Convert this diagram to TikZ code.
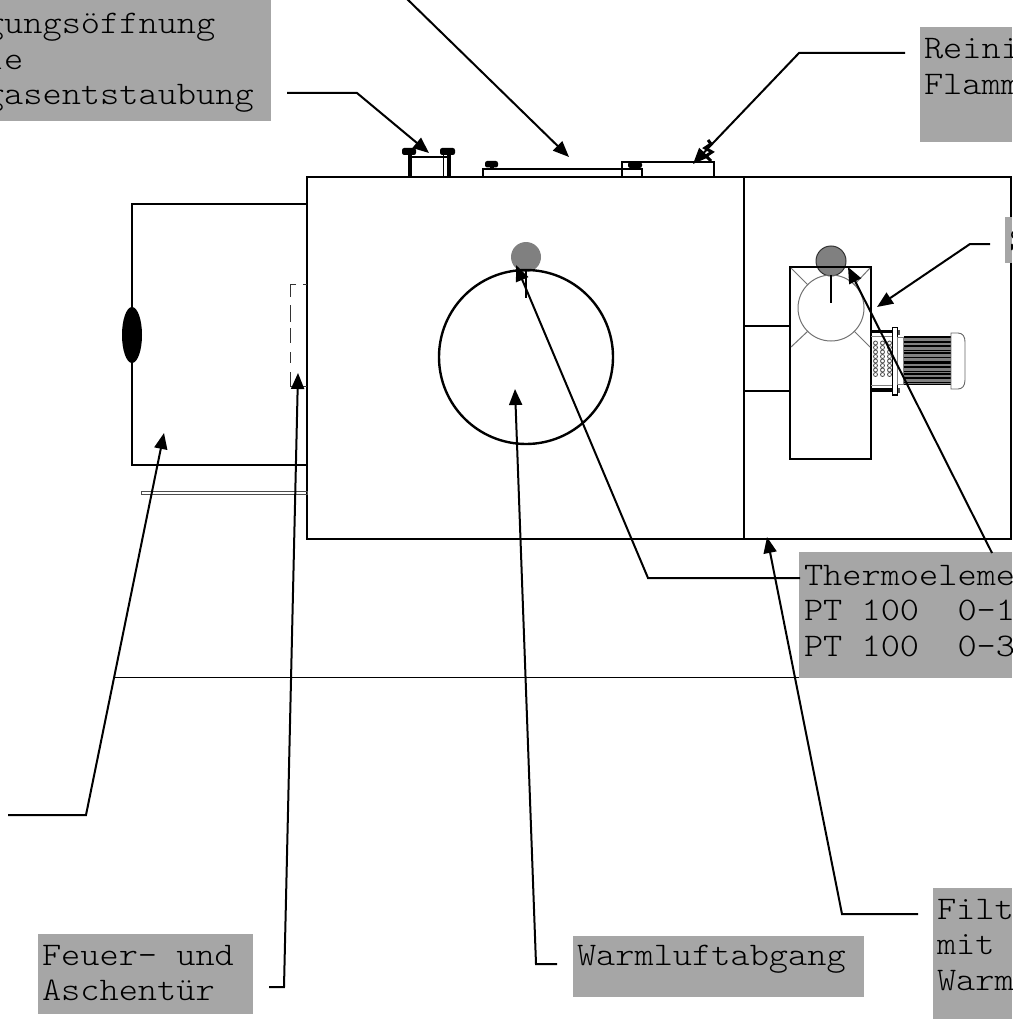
\documentclass[tikz,border=0pt]{standalone}
\usepackage{fontspec}
\newfontfamily\labfont{Latin Modern Mono Light}[FakeStretch=1.108]
\usetikzlibrary{arrows.meta}
\definecolor{boxgrey}{HTML}{A6A6A6}
\definecolor{dotgrey}{HTML}{808080}
\tikzset{
  greybox/.style={fill=boxgrey,draw=none,inner sep=0pt,outer sep=0pt,anchor=north west},
  labeltext/.style={inner sep=0pt,outer sep=0pt,anchor=north west,align=left,text=black,
    font=\labfont\fontsize{33}{35.5}\selectfont},
  thick line/.style={line width=2.4pt,draw=black},
  thin grey/.style={line width=1pt,draw=black!55},
  connector/.style={line width=2pt,draw=black,line join=miter,-{Triangle[length=16pt,width=13pt]}},
  plainline/.style={line width=.9pt,draw=black},
  boltcap/.style={fill=black,rounded corners=2.2pt},
  dashline/.style={line width=1pt,draw=black!80},
}
\newcommand{\topstrut}{\rule{0pt}{24pt}}
\begin{document}
\begin{tikzpicture}[x=1pt,y=-1pt]
\useasboundingbox (0,0) rectangle (1012,1019);
\clip (0,0) rectangle (1012,1019);
\fill[white] (0,0) rectangle (1012,1019);

% ---- housing
\draw[thick line] (307,177) rectangle (744,539);
\draw[thick line] (744,177) -- (1011,177) -- (1011,539) -- (744,539);
\draw[thick line] (307,204) -- (132,204) -- (132,465) -- (307,465);
\fill[black] (132,335) ellipse [x radius=10,y radius=28];
\draw[dashline] (296,284) -- (290,284) -- (290,297);
\draw[dashline] (303,284) -- (307,284);
\draw[dashline] (290,305) -- (290,322);
\draw[dashline] (290,328) -- (290,343);
\draw[dashline] (290,352) -- (290,363);
\draw[dashline] (290,372) -- (290,386) -- (307,386);
\draw[line width=1pt,draw=black!70] (141,491) rectangle (307,494.5);

% ---- combustion chamber circle
\fill[dotgrey] (526,257) circle [radius=15];
\draw[thick line] (526,357) circle [radius=87];
\draw[line width=1.6pt,draw=black] (526,270) -- (526,298);

% ---- top fittings
\draw[line width=4.5pt] (410,155) -- (410,177);
\draw[line width=1.3pt] (443.5,155) -- (443.5,177);
\draw[line width=3.5pt] (449,155) -- (449,177);
\draw[line width=2.2pt] (410,157) -- (447,157);
\fill[boltcap] (402,148) rectangle (416,155);
\fill[boltcap] (440,148) rectangle (455,155);
\draw[line width=2pt] (483,177) -- (483,169) -- (642,169) -- (642,177);
\fill[boltcap] (485,161) rectangle (498,167.5);
\draw[line width=4pt] (492,166) -- (492,170);
\draw[line width=1.8pt] (622,177) -- (622,162) -- (714,162) -- (714,177);
\fill[boltcap] (628,162) rectangle (642,168);
\draw[line width=3pt] (708,140) -- (711,144) -- (705,148) -- (712,152) -- (706,156) -- (711,161);

% ---- fan
\fill[dotgrey] (831,261) circle [radius=15];
\draw[line width=1pt,draw=black!80] (831,261) circle [radius=15];
\draw[thick line] (790,267) rectangle (871,459);
\draw[thin grey] (831,308) circle [radius=33];
\draw[thin grey] (791,268) -- (808,285);
\draw[thin grey] (870,268) -- (854,285);
\draw[thin grey] (791,347) -- (808,331);
\draw[thin grey] (870,347) -- (854,331);
\draw[line width=1.6pt,draw=black] (831,275) -- (831,303);
\draw[thick line] (744,326) -- (790,326);
\draw[thick line] (744,391) -- (790,391);

% ---- motor
\draw[line width=2.5pt] (871,331.5) -- (893,331.5);
\draw[line width=4pt] (871,390) -- (893,390);
\draw[line width=.7pt,draw=black!50] (871,336) -- (893,336);
\draw[line width=.7pt,draw=black!50] (871,385) -- (893,385);
\foreach \cx in {875.5,882.5,889.5}
  \foreach \cy in {343,347.5,352,356.5,361,365.5,370,374.5}
    \draw[line width=.8pt,draw=black!70] (\cx,\cy) circle [radius=2];
\draw[line width=1.2pt,fill=white] (892.5,327.5) rectangle (897.5,395);
\fill[black!70] (897.5,330) rectangle (899.5,335);
\fill[black!70] (897.5,388) rectangle (899.5,393);
\draw[line width=.8pt,draw=black!50,fill=white] (897.5,337) rectangle (903.5,384);
\fill[black!50] (903.5,336) rectangle (951,385);
\foreach \sy/\sw in {337/2.2,342/1.2,346/1.6,350.5/.8,353/1.2,357/1,362.5/2.5,367/1.2,371/.8,374/1.6,378/1.2,382/.8,384.5/1.5}
  \draw[line width=\sw pt,draw=black] (903.5,\sy) -- (951,\sy);
\draw[line width=.9pt,draw=black!60,fill=white] (951,333) -- (958,333) .. controls (963,333) and (965,337) .. (965,342)
  -- (965,380) .. controls (965,386) and (962,389) .. (958,389) -- (951,389) -- cycle;

% ---- thin cross line
\draw[plainline] (115,677) -- (800,677);

% ---- grey labels
\node[greybox,minimum width=291pt,minimum height=121pt] (lblA) at (-20,0) {};
\node[labeltext] (lblAt) at (-15,10) {\topstrut gungsöffnung\\ie\\gasentstaubung};
\node[greybox,minimum width=92pt,minimum height=115pt] (lblB) at (920,27) {};
\node[labeltext] (lblBt) at (924,35) {\topstrut Reini\\Flamm};
\node[greybox,minimum width=7pt,minimum height=46pt] (lblC) at (1005,217) {};
\node[labeltext] (lblCt) at (1009,226) {\topstrut S};
\node[greybox,minimum width=213pt,minimum height=126pt] (lblD) at (799,552) {};
\node[labeltext] (lblDt) at (804,561) {\topstrut Thermoeleme\\PT~100~~0-1\\PT~100~~0-3};
\node[greybox,minimum width=79pt,minimum height=131pt] (lblE) at (933,888) {};
\node[labeltext] (lblEt) at (937,895) {\topstrut Filt\\mit\\Warm};
\node[greybox,minimum width=291pt,minimum height=61pt] (lblF) at (573,936) {};
\node[labeltext] (lblFt) at (577,941) {\topstrut Warmluftabgang};
\node[greybox,minimum width=215pt,minimum height=80pt] (lblG) at (38,934) {};
\node[labeltext] (lblGt) at (42,941) {\topstrut Feuer-~und\\Aschentür};

% ---- connector points
\coordinate (a0) at (287,93);   \coordinate (a1) at (357,93);   \coordinate (a2) at (429,153);
\coordinate (b0) at (404,-4);   \coordinate (b2) at (569,157);
\coordinate (c0) at (905,53);   \coordinate (c1) at (799,53);   \coordinate (c2) at (693,164);
\coordinate (d0) at (990,244);  \coordinate (d1) at (970,244);  \coordinate (d2) at (877,307);
\coordinate (e0) at (800,578);  \coordinate (e1) at (648,578);  \coordinate (e2) at (516,265);
\coordinate (f0) at (992,553);  \coordinate (f2) at (848,267);
\coordinate (g0) at (8,815);    \coordinate (g1) at (86,815);   \coordinate (g2) at (164,433);
\coordinate (h0) at (269,987);  \coordinate (h1) at (284,987);  \coordinate (h2) at (298,373);
\coordinate (i0) at (557,964);  \coordinate (i1) at (536,964);  \coordinate (i2) at (515,389);
\coordinate (j0) at (918,914);  \coordinate (j1) at (842,914);  \coordinate (j2) at (767,537);

\draw[connector] (a0) -- (a1) -- (a2);
\draw[connector] (b0) -- (b2);
\draw[connector] (c0) -- (c1) -- (c2);
\draw[connector] (d0) -- (d1) -- (d2);
\draw[connector] (e0) -- (e1) -- (e2);
\draw[connector] (f0) -- (f2);
\draw[connector] (g0) -- (g1) -- (g2);
\draw[connector] (h0) -- (h1) -- (h2);
\draw[connector] (i0) -- (i1) -- (i2);
\draw[connector] (j0) -- (j1) -- (j2);
\end{tikzpicture}
\end{document}
